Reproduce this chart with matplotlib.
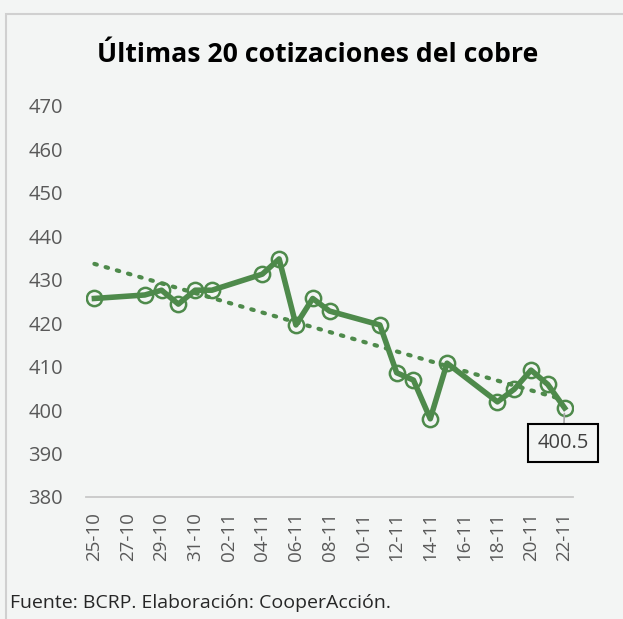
import matplotlib
matplotlib.use("Agg")
import matplotlib.pyplot as plt
import matplotlib.dates as mdates
from matplotlib.patches import Rectangle
import numpy as np
import pandas as pd

# ---- data ----
dates = ["2024-10-25", "2024-10-28", "2024-10-29", "2024-10-30", "2024-10-31",
         "2024-11-01", "2024-11-04", "2024-11-05", "2024-11-06", "2024-11-07",
         "2024-11-08", "2024-11-11", "2024-11-12", "2024-11-13", "2024-11-14",
         "2024-11-15", "2024-11-18", "2024-11-19", "2024-11-20", "2024-11-21",
         "2024-11-22"]
prices = [425.7, 426.5, 427.6, 424.4, 427.6, 427.6, 431.3, 434.8, 419.6, 425.7,
          422.8, 419.6, 408.6, 406.9, 398.0, 410.8, 401.9, 404.8, 409.2, 405.9,
          400.5]
y_ticks = [380, 390, 400, 410, 420, 430, 440, 450, 460, 470]
title = "Últimas 20 cotizaciones del cobre"
source = "Fuente: BCRP. Elaboración: CooperAcción."
last_label = "400.5"

# ---- style ----
W, H = 623, 619
bg = "#f3f5f4"
green = "#4e8a4b"
txt = "#595959"
font = ["Open Sans", "DejaVu Sans"]

fig = plt.figure(figsize=(W / 100, H / 100), dpi=100, facecolor=bg)
# outer chart border (cropped at right/bottom)
fig.patches.append(Rectangle((6 / W, -0.1), 1.2, 1 - 14 / H + 0.1, transform=fig.transFigure,
                             facecolor="none", edgecolor="#d0d0d0", linewidth=1.5))

ax = fig.add_axes([86 / W, 1 - 497 / H, (573 - 86) / W, (497 - 106) / H])
ax.set_facecolor(bg)

x = pd.to_datetime(dates)
xn = mdates.date2num(x)

# trendline (linear fit)
coef = np.polyfit(xn, prices, 1)
ax.plot(x, np.polyval(coef, xn), linestyle=(0, (0.6, 2.2)), color=green,
        linewidth=3, dash_capstyle="round", zorder=2)

ax.plot(x, prices, color=green, linewidth=4, marker="o", markersize=11,
        markerfacecolor="none", markeredgecolor=green, markeredgewidth=1.8,
        solid_joinstyle="round", zorder=3)

start = mdates.date2num(pd.Timestamp("2024-10-25"))
ax.set_xlim(start - 0.5, start + 28.5)
ax.set_ylim(380, 470)
ax.set_yticks(y_ticks)
ax.set_yticklabels([str(v) for v in y_ticks], fontsize=14.5, color=txt, family=font)

tick_dates = pd.date_range("2024-10-25", "2024-11-22", freq="2D")
ax.set_xticks(tick_dates)
ax.set_xticklabels([d.strftime("%d-%m") for d in tick_dates], rotation=90,
                   fontsize=13.5, color=txt, family=font)
ax.tick_params(axis="both", length=0)
ax.tick_params(axis="y", pad=16.5)
ax.tick_params(axis="x", pad=11)

for s in ["top", "right", "left"]:
    ax.spines[s].set_visible(False)
ax.spines["bottom"].set_color("#c8c8c8")
ax.spines["bottom"].set_linewidth(1.3)

# data label for the last point
ax.annotate(last_label, xy=(x[-1], prices[-1]), xytext=(-1, -25),
            textcoords="offset points", ha="center", va="center",
            fontsize=14.5, color="#404040", family=font,
            bbox=dict(boxstyle="square,pad=0.45", facecolor=bg, edgecolor="black", linewidth=1.5),
            arrowprops=dict(arrowstyle="-", color="#a6a6a6", linewidth=1.2, shrinkA=0, shrinkB=4))

fig.text(318 / W, 1 - 55 / H, title, ha="center", va="center", fontsize=19.2,
         fontweight="bold", color="black", family=font)
fig.text(10 / W, 1 - 603 / H, source, ha="left", va="center", fontsize=14,
         color="#262626", family=font)

fig.savefig("out.png", dpi=100, facecolor=bg)
